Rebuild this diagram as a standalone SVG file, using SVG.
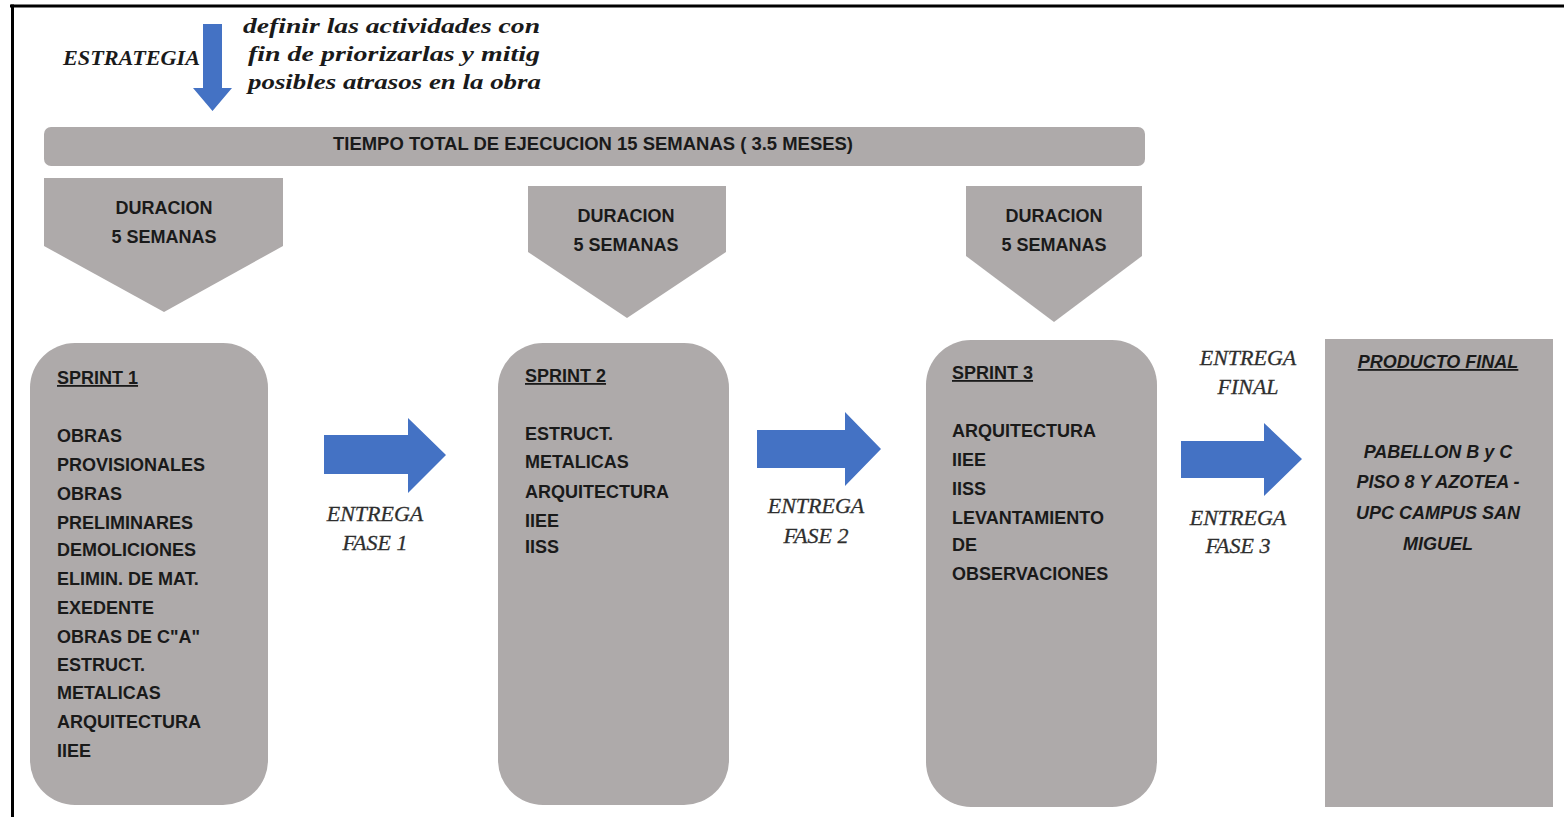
<svg xmlns="http://www.w3.org/2000/svg" width="1564" height="817" viewBox="0 0 1564 817">
  <style>
    .g { fill: #aeaaaa; }
    .b { fill: #4472c4; }
    .t { font-family: "Liberation Sans", Arial, sans-serif; font-weight: bold; font-size: 18px; fill: #1a1a1a; }
    .c { text-anchor: middle; }
    .u { text-decoration: underline; }
    .pi { font-style: italic; }
    .e { font-family: "Liberation Serif", "Times New Roman", serif; font-style: italic; font-size: 22px; fill: #2e2e2e; text-anchor: middle; stroke: #2e2e2e; stroke-width: 0.3; }
    .h { font-family: "Liberation Serif", "Times New Roman", serif; font-style: italic; font-weight: bold; font-size: 22px; fill: #1a1a1a; }
  </style>
  <rect width="1564" height="817" fill="#ffffff"/>
  <g id="frame">
    <rect x="10" y="4.5" width="1554" height="3" fill="#000"/>
    <rect x="11" y="4.5" width="3" height="812.5" fill="#000"/>
  </g>

  <g id="strategy">
    <text class="h" x="63" y="65" textLength="137" lengthAdjust="spacingAndGlyphs">ESTRATEGIA</text>
    <text class="h" x="243" y="33" textLength="297" lengthAdjust="spacingAndGlyphs">definir las actividades con</text>
    <text class="h" x="248" y="61" textLength="292" lengthAdjust="spacingAndGlyphs">fin de priorizarlas y mitig</text>
    <text class="h" x="248" y="89" textLength="293" lengthAdjust="spacingAndGlyphs">posibles atrasos en la obra</text>
  </g>

  <g id="total-bar">
    <rect class="g" x="44" y="127" width="1101" height="39" rx="7"/>
    <text class="t" x="333" y="150" font-size="17" textLength="520" lengthAdjust="spacingAndGlyphs">TIEMPO TOTAL DE EJECUCION 15 SEMANAS ( 3.5 MESES)</text>
  </g>

  <g id="duracion-1">
    <polygon class="g" points="44,178 283,178 283,246 164,312 44,246"/>
    <text class="t c" x="164" y="214">DURACION</text>
    <text class="t c" x="164" y="243">5 SEMANAS</text>
  </g>
  <g id="duracion-2">
    <polygon class="g" points="528,186 726,186 726,252 627,318 528,252"/>
    <text class="t c" x="626" y="222">DURACION</text>
    <text class="t c" x="626" y="251">5 SEMANAS</text>
  </g>
  <g id="duracion-3">
    <polygon class="g" points="966,186 1142,186 1142,256 1054,322 966,256"/>
    <text class="t c" x="1054" y="222">DURACION</text>
    <text class="t c" x="1054" y="251">5 SEMANAS</text>
  </g>

  <g id="sprint-1">
    <rect class="g" x="30" y="343" width="238" height="462" rx="45"/>
    <text class="t u" x="57" y="384">SPRINT 1</text>
    <text class="t" x="57" y="442">OBRAS</text>
    <text class="t" x="57" y="471">PROVISIONALES</text>
    <text class="t" x="57" y="500">OBRAS</text>
    <text class="t" x="57" y="529">PRELIMINARES</text>
    <text class="t" x="57" y="556">DEMOLICIONES</text>
    <text class="t" x="57" y="585">ELIMIN. DE MAT.</text>
    <text class="t" x="57" y="614">EXEDENTE</text>
    <text class="t" x="57" y="643">OBRAS DE C"A"</text>
    <text class="t" x="57" y="671">ESTRUCT.</text>
    <text class="t" x="57" y="699">METALICAS</text>
    <text class="t" x="57" y="728">ARQUITECTURA</text>
    <text class="t" x="57" y="757">IIEE</text>
  </g>

  <g id="sprint-2">
    <rect class="g" x="498" y="343" width="231" height="462" rx="45"/>
    <text class="t u" x="525" y="382">SPRINT 2</text>
    <text class="t" x="525" y="440">ESTRUCT.</text>
    <text class="t" x="525" y="468">METALICAS</text>
    <text class="t" x="525" y="498">ARQUITECTURA</text>
    <text class="t" x="525" y="527">IIEE</text>
    <text class="t" x="525" y="553">IISS</text>
  </g>

  <g id="sprint-3">
    <rect class="g" x="926" y="340" width="231" height="467" rx="45"/>
    <text class="t u" x="952" y="379">SPRINT 3</text>
    <text class="t" x="952" y="437">ARQUITECTURA</text>
    <text class="t" x="952" y="466">IIEE</text>
    <text class="t" x="952" y="495">IISS</text>
    <text class="t" x="952" y="524">LEVANTAMIENTO</text>
    <text class="t" x="952" y="551">DE</text>
    <text class="t" x="952" y="580">OBSERVACIONES</text>
  </g>

  <g id="producto-final">
    <rect class="g" x="1325" y="339" width="228" height="468"/>
    <text class="t c u pi" x="1438" y="368">PRODUCTO FINAL</text>
    <text class="t c pi" x="1438" y="458">PABELLON B y C</text>
    <text class="t c pi" x="1438" y="488">PISO 8 Y AZOTEA -</text>
    <text class="t c pi" x="1438" y="519">UPC CAMPUS SAN</text>
    <text class="t c pi" x="1438" y="550">MIGUEL</text>
  </g>

  <g id="connectors">
    <polygon class="b" points="203,24 222,24 222,88 232,88 212.5,111 193,88 203,88"/>
    <polygon class="b" points="324,435 408,435 408,418 446,455 408,493 408,474 324,474"/>
    <polygon class="b" points="757,430 845,430 845,412 881,449 845,486 845,468 757,468"/>
    <polygon class="b" points="1181,441 1264,441 1264,423 1302,459 1264,496 1264,478 1181,478"/>
  </g>

  <g id="labels">
    <text class="e" x="375" y="521">ENTREGA</text>
    <text class="e" x="375" y="550">FASE 1</text>
    <text class="e" x="816" y="513">ENTREGA</text>
    <text class="e" x="816" y="543">FASE 2</text>
    <text class="e" x="1248" y="365">ENTREGA</text>
    <text class="e" x="1248" y="394">FINAL</text>
    <text class="e" x="1238" y="525">ENTREGA</text>
    <text class="e" x="1238" y="553">FASE 3</text>
  </g>
</svg>
